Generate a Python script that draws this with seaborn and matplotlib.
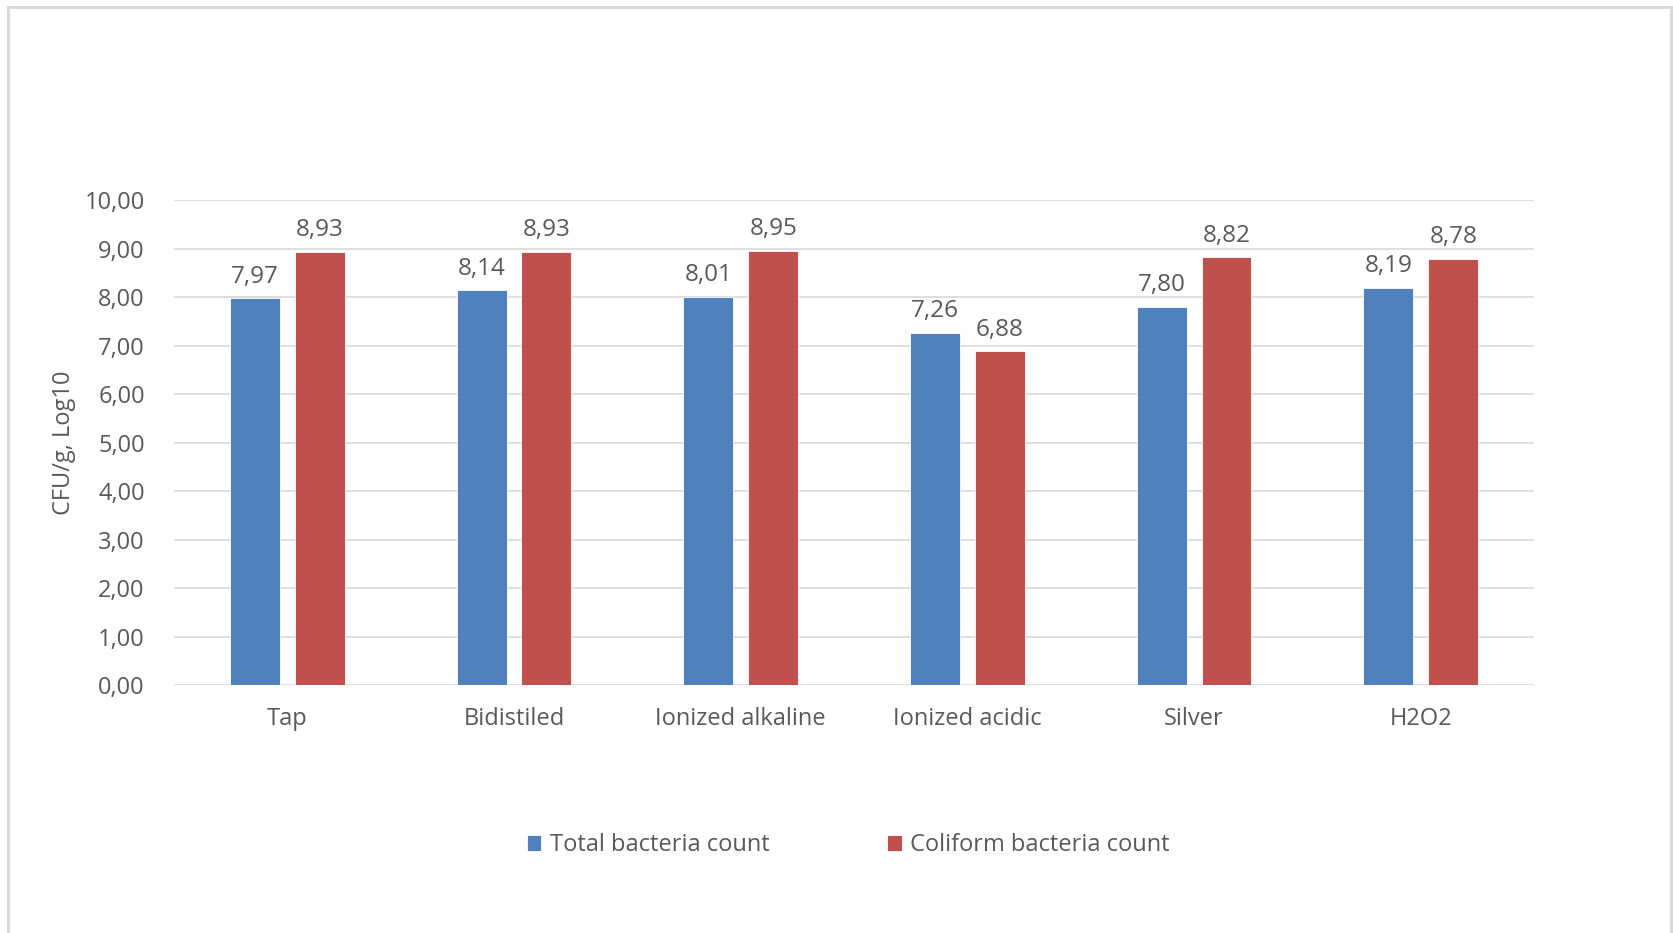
import matplotlib
matplotlib.use("Agg")
import matplotlib.pyplot as plt
import seaborn as sns
import pandas as pd
from matplotlib.patches import Rectangle

categories = ["Tap", "Bidistiled", "Ionized alkaline", "Ionized acidic", "Silver", "H2O2"]
total_counts = [7.97, 8.14, 8.01, 7.26, 7.80, 8.19]
coliform_counts = [8.93, 8.93, 8.95, 6.88, 8.82, 8.78]
series_names = ["Total bacteria count", "Coliform bacteria count"]
y_ticks = [0, 1, 2, 3, 4, 5, 6, 7, 8, 9, 10]

df = pd.DataFrame({
    "category": categories * 2,
    "series": [series_names[0]] * len(categories) + [series_names[1]] * len(categories),
    "value": total_counts + coliform_counts,
})

sns.set_theme(style="white")
plt.rcParams["font.family"] = ["Open Sans", "DejaVu Sans"]
text_color = "#595959"

fig = plt.figure(figsize=(16.73, 9.33), dpi=100)
ax = fig.add_axes([0.104, 0.2658, 0.813, 0.5198])

palette = {series_names[0]: "#4F81BD", series_names[1]: "#C0504D"}
sns.barplot(data=df, x="category", y="value", hue="series", order=categories,
            hue_order=series_names, palette=palette, width=0.572, gap=0.23,
            saturation=1, ax=ax, edgecolor="white", linewidth=0.6, errorbar=None)

ax.set_ylim(0, 10)
ax.set_xlim(-0.5, len(categories) - 0.5)
ax.set_yticks(y_ticks)
ax.set_yticklabels([f"{v:.2f}".replace(".", ",") for v in y_ticks])
ax.yaxis.grid(True, color="#D9D9D9", linewidth=1.2)
ax.set_axisbelow(True)
for s in ax.spines.values():
    s.set_visible(False)
ax.tick_params(axis="both", length=0, labelsize=17, colors=text_color)
ax.tick_params(axis="y", pad=21)
ax.tick_params(axis="x", pad=16)
ax.set_xlabel("")
ax.set_ylabel("CFU/g, Log10", fontsize=17, color=text_color, labelpad=6)

for cont in ax.containers:
    labels = [f"{b.get_height():.2f}".replace(".", ",") for b in cont]
    ax.bar_label(cont, labels=labels, padding=7, fontsize=17.5, color=text_color)

handles, lbls = ax.get_legend_handles_labels()
ax.legend_.remove()
fig.legend(handles, lbls, loc="center", bbox_to_anchor=(0.507, 0.094), ncol=2,
           frameon=False, fontsize=17, labelcolor=text_color, handlelength=0.62,
           handleheight=0.62, handletextpad=0.35, columnspacing=5.0)

fig.patches.append(Rectangle((8 / 1673, -0.05), (1671 - 8) / 1673, 1 - 7 / 933 + 0.05,
                             transform=fig.transFigure, fill=False,
                             edgecolor="#D9D9D9", linewidth=2.2))

fig.savefig("out.png", dpi=100)
